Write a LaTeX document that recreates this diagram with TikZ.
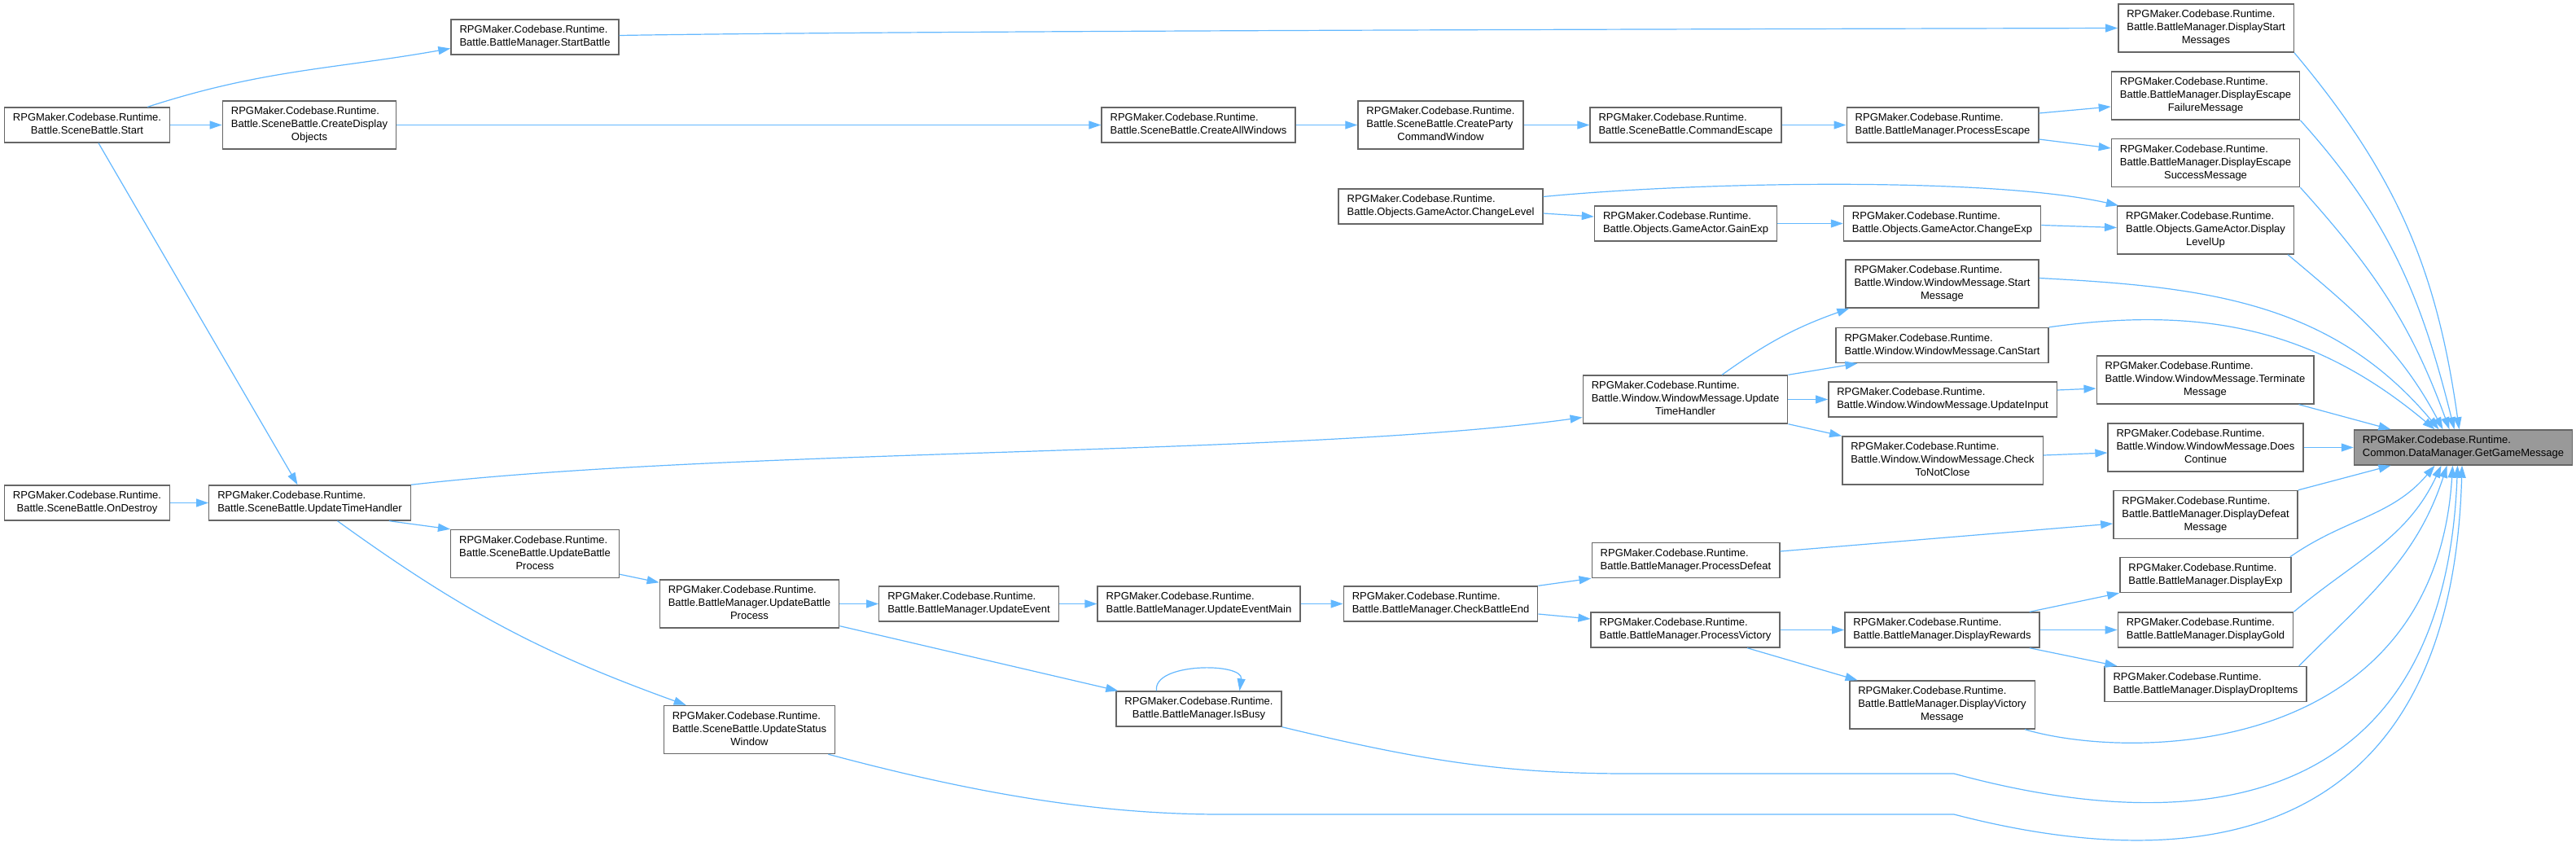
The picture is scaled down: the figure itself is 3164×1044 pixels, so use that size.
\documentclass[tikz,border=0pt]{standalone}
\usepackage{fontspec}
\setmainfont{Liberation Sans}
\usepackage{xcolor}
\usepackage{tikz}
\usetikzlibrary{arrows.meta}

\definecolor{edgeblue}{HTML}{63B8FF}
\definecolor{boxgray}{HTML}{666666}
\definecolor{rootfill}{HTML}{999999}

% two- and three-line labels: left lines, last line centred
\newcommand{\fnii}[1]{\begin{tabular}{@{}l@{}}RPGMaker.Codebase.Runtime.\\\multicolumn{1}{@{}c@{}}{#1}\end{tabular}}
\newcommand{\fniii}[2]{\begin{tabular}{@{}l@{}}RPGMaker.Codebase.Runtime.\\#1\\\multicolumn{1}{@{}c@{}}{#2}\end{tabular}}

\begin{document}
\begin{tikzpicture}[
  x=1pt, y=-1pt,
  fnode/.style={
    rectangle, draw=boxgray, fill=white, line width=1.4pt,
    inner xsep=10.5pt, inner ysep=5.5pt,
    font=\fontsize{13}{16}\selectfont
  },
  root/.style={fnode, fill=rootfill},
  call/.style={-{Triangle[length=15pt, width=10pt]}, edgeblue, line width=1.2pt},
]
  \path[use as bounding box, fill=white] (0,0) rectangle (3164,1044);

  % Column 1
  \node[fnode] (start)     at (107,153.5) {\fnii{Battle.SceneBattle.Start}};
  \node[fnode] (onDestroy) at (107,617.5) {\fnii{Battle.SceneBattle.OnDestroy}};

  % Column 2
  \node[fnode] (createDisp) at (380,153.5)   {\fniii{Battle.SceneBattle.CreateDisplay}{Objects}};
  \node[fnode] (sbUTH)      at (380.5,617.5) {\fnii{Battle.SceneBattle.UpdateTimeHandler}};

  % Column 3
  \node[fnode] (startBattle) at (657,45.5) {\fnii{Battle.BattleManager.StartBattle}};
  \node[fnode] (sbUBP)       at (657,680)  {\fniii{Battle.SceneBattle.UpdateBattle}{Process}};

  % Column 4
  \node[fnode] (bmUBP)     at (920.5,741.5) {\fniii{Battle.BattleManager.UpdateBattle}{Process}};
  \node[fnode] (statusWin) at (920.5,896)   {\fniii{Battle.SceneBattle.UpdateStatus}{Window}};

  % Column 5
  \node[fnode] (updEvent) at (1190,741.5) {\fnii{Battle.BattleManager.UpdateEvent}};

  % Column 6
  \node[fnode] (createAll)    at (1472,153.5)   {\fnii{Battle.SceneBattle.CreateAllWindows}};
  \node[fnode] (updEventMain) at (1472.5,741.5) {\fnii{Battle.BattleManager.UpdateEventMain}};
  \node[fnode] (isBusy)       at (1472.5,870.5) {\fnii{Battle.BattleManager.IsBusy}};

  % Column 7
  \node[fnode] (createParty) at (1769.5,153.5) {\fniii{Battle.SceneBattle.CreateParty}{CommandWindow}};
  \node[fnode] (changeLevel) at (1769.5,253.5) {\fnii{Battle.Objects.GameActor.ChangeLevel}};
  \node[fnode] (checkEnd)    at (1769.5,741.5) {\fnii{Battle.BattleManager.CheckBattleEnd}};

  % Column 8
  \node[fnode] (cmdEscape)   at (2070.5,153.5) {\fnii{Battle.SceneBattle.CommandEscape}};
  \node[fnode] (gainExp)     at (2070.5,274.5) {\fnii{Battle.Objects.GameActor.GainExp}};
  \node[fnode] (wmUTH)       at (2070,490.5)   {\fniii{Battle.Window.WindowMessage.Update}{TimeHandler}};
  \node[fnode] (procDefeat)  at (2070.5,688)   {\fnii{Battle.BattleManager.ProcessDefeat}};
  \node[fnode] (procVictory) at (2070,773.5)   {\fnii{Battle.BattleManager.ProcessVictory}};

  % Column 9
  \node[fnode] (procEscape)  at (2386,153.5)   {\fnii{Battle.BattleManager.ProcessEscape}};
  \node[fnode] (changeExp)   at (2385.5,274.5) {\fnii{Battle.Objects.GameActor.ChangeExp}};
  \node[fnode] (startMsg)    at (2385.5,348.5) {\fniii{Battle.Window.WindowMessage.Start}{Message}};
  \node[fnode] (canStart)    at (2385.5,424)   {\fnii{Battle.Window.WindowMessage.CanStart}};
  \node[fnode] (updInput)    at (2386,490.5)   {\fnii{Battle.Window.WindowMessage.UpdateInput}};
  \node[fnode] (checkClose)  at (2386,565.5)   {\fniii{Battle.Window.WindowMessage.Check}{ToNotClose}};
  \node[fnode] (dispRewards) at (2385.5,773.5) {\fnii{Battle.BattleManager.DisplayRewards}};
  \node[fnode] (dispVictory) at (2385.5,865.5) {\fniii{Battle.BattleManager.DisplayVictory}{Message}};

  % Column 10
  \node[fnode] (dispStart) at (2709.5,34.5) {\fniii{Battle.BattleManager.DisplayStart}{Messages}};
  \node[fnode] (escFail)   at (2709,117.5)  {\fniii{Battle.BattleManager.DisplayEscape}{FailureMessage}};
  \node[fnode] (escSucc)   at (2709,200)    {\fniii{Battle.BattleManager.DisplayEscape}{SuccessMessage}};
  \node[fnode] (levelUp)   at (2709,282.5)  {\fniii{Battle.Objects.GameActor.Display}{LevelUp}};
  \node[fnode] (terminate) at (2708.5,466.5) {\fniii{Battle.Window.WindowMessage.Terminate}{Message}};
  \node[fnode] (doesCont)  at (2709,549.5)  {\fniii{Battle.Window.WindowMessage.Does}{Continue}};
  \node[fnode] (defeatMsg) at (2709,632)    {\fniii{Battle.BattleManager.DisplayDefeat}{Message}};
  \node[fnode] (dispExp)   at (2709,706)    {\fnii{Battle.BattleManager.DisplayExp}};
  \node[fnode] (dispGold)  at (2709,773.5)  {\fnii{Battle.BattleManager.DisplayGold}};
  \node[fnode] (dropItems) at (2709,840)    {\fnii{Battle.BattleManager.DisplayDropItems}};

  % Root
  \node[root] (getMsg) at (3025.5,549.5) {\fnii{Common.DataManager.GetGameMessage}};

  % Scene battle calls
  \draw[call] ([xshift=-28]start.north east) to[out=18, in=190] ([yshift=-14]startBattle.west);
  \draw[call] (start) -- (createDisp);
  \draw[call] ([xshift=14]start.south) -- ([xshift=-15]sbUTH.north);
  \draw[call] (onDestroy) -- (sbUTH);
  \draw[call] ([xshift=-27]sbUTH.south east) -- (sbUBP.north west);
  \draw[call] ([xshift=34]sbUTH.south) to[bend right=8] ([xshift=28]statusWin.north west);
  \draw[call] (sbUTH.north east) .. controls (900,550) and (1600,560) .. ([yshift=-22]wmUTH.west);

  % Battle loop
  \draw[call] ([yshift=5]sbUBP.south east) -- ([yshift=-4]bmUBP.north west);
  \draw[call] (bmUBP) -- (updEvent);
  \draw[call] (updEvent) -- (updEventMain);
  \draw[call] (updEventMain) -- (checkEnd);
  \draw[call] ([yshift=3]bmUBP.south east) -- ([xshift=3]isBusy.north west);
  \draw[call] ([xshift=-52]isBusy.north) .. controls +(-5,-35) and +(5,-35) .. ([xshift=50]isBusy.north);
  \draw[call] (checkEnd.north east) -- (procDefeat.south west);
  \draw[call] ([yshift=-12.5]checkEnd.east) -- ([yshift=13.5]procVictory.west);
  \draw[call] (procVictory) -- (dispRewards);
  \draw[call] ([xshift=76]procVictory.south) -- ([xshift=-104]dispVictory.north);
  \draw[call] ([xshift=-13]dispRewards.north east) -- (dispExp.south west);
  \draw[call] (dispRewards) -- (dispGold);
  \draw[call] ([xshift=-13]dispRewards.south east) -- ([xshift=16]dropItems.north west);
  \draw[call] ([yshift=11]procDefeat.east) -- ([yshift=-11]defeatMsg.west);

  % Escape chain
  \draw[call] (createDisp) -- (createAll);
  \draw[call] (createAll) -- (createParty);
  \draw[call] (createParty) -- (cmdEscape);
  \draw[call] (cmdEscape) -- (procEscape);
  \draw[call] ([yshift=14.5]procEscape.east) -- ([yshift=-13.5]escFail.west);
  \draw[call] ([yshift=-17.5]procEscape.east) -- ([yshift=18]escSucc.west);

  % Level up chain
  \draw[call] ([yshift=-8.5]changeLevel.east) -- ([yshift=8.5]gainExp.west);
  \draw[call] (gainExp) -- (changeExp);
  \draw[call] ([yshift=-2]changeExp.east) -- ([yshift=3]levelUp.west);
  \draw[call] ([yshift=12]changeLevel.east) .. controls (2100,222) and (2450,218) .. ([xshift=2]levelUp.north west);
  \draw[call] ([yshift=2]startBattle.east) .. controls (1100,38) and (2000,36) .. (dispStart.west);

  % Window message
  \draw[call] ([xshift=45]wmUTH.north) to[bend left=8] ([xshift=5]startMsg.south west);
  \draw[call] (wmUTH.north east) -- ([xshift=27]canStart.south west);
  \draw[call] (wmUTH) -- (updInput);
  \draw[call] (wmUTH.south east) -- (checkClose.north west);
  \draw[call] ([yshift=11.5]updInput.east) -- ([yshift=-10.5]terminate.west);
  \draw[call] ([yshift=6.5]checkClose.east) -- ([yshift=-6.5]doesCont.west);

  % Into GetGameMessage, from above
  \draw[call] (dispStart.south east) to[out=-50, in=98] ([xshift=-5]getMsg.north);
  \draw[call] (escFail.south east) to[out=-48, in=104] ([xshift=-11]getMsg.north);
  \draw[call] (escSucc.south east) to[out=-48, in=110] ([xshift=-17]getMsg.north);
  \draw[call] ([xshift=-8]levelUp.south east) to[out=-40, in=118] ([xshift=-25]getMsg.north);
  \draw[call] ([yshift=7]startMsg.east) to[out=-3, in=130] ([xshift=-30]getMsg.north);
  \draw[call] (canStart.north east) to[out=8, in=140] ([xshift=-35]getMsg.north);
  \draw[call] ([xshift=-19]terminate.south east) -- ([xshift=-89]getMsg.north);
  \draw[call] (doesCont) -- (getMsg);

  % Into GetGameMessage, from below
  \draw[call] (defeatMsg.north east) -- ([xshift=-89]getMsg.south);
  \draw[call] ([xshift=-2]dispExp.north east) to[out=35, in=-130] ([xshift=-35]getMsg.south);
  \draw[call] (dispGold.north east) to[out=40, in=-115] ([xshift=-27]getMsg.south);
  \draw[call] ([xshift=-10]dropItems.north east) to[out=45, in=-108] ([xshift=-20]getMsg.south);
  \draw[call] ([xshift=-13]dispVictory.south east) .. controls (2620,935) and (2990,930) .. ([xshift=-13]getMsg.south);
  \draw[call] (isBusy.south east) .. controls (1750,935) and (1850,950) .. (2000,950) -- (2400,950)
    .. controls (2620,1010) and (3000,1050) .. ([xshift=-7]getMsg.south);
  \draw[call] ([xshift=-9]statusWin.south east) .. controls (1200,975) and (1350,1000) .. (1500,1000) -- (2400,1000)
    .. controls (2650,1065) and (3010,1075) .. ([xshift=-1.5]getMsg.south);
\end{tikzpicture}
\end{document}
